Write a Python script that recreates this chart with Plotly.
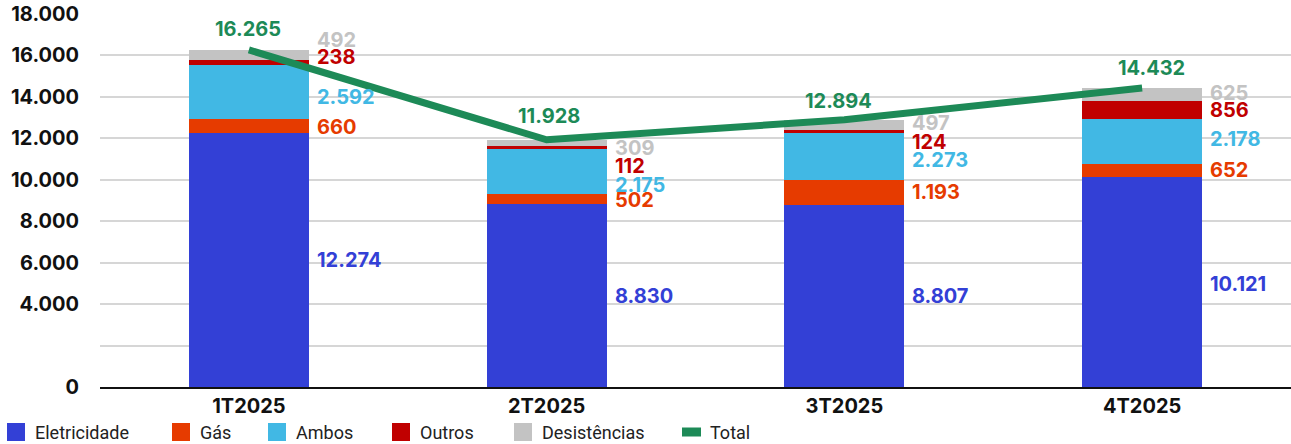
import plotly.graph_objects as go

# ---- data ----
categories = ["1T2025", "2T2025", "3T2025", "4T2025"]
eletricidade = [12274, 8830, 8807, 10121]
gas = [660, 502, 1193, 652]
ambos = [2592, 2175, 2273, 2178]
outros = [238, 112, 124, 856]
desistencias = [492, 309, 497, 625]
total = [16265, 11928, 12894, 14432]
series_names = ["Eletricidade", "Gás", "Ambos", "Outros", "Desistências"]
total_name = "Total"
y_tick_values = [0, 2000, 4000, 6000, 8000, 10000, 12000, 14000, 16000, 18000]
y_tick_labels = ["0", "", "4.000", "6.000", "8.000", "10.000", "12.000", "14.000", "16.000", "18.000"]

# ---- style ----
colors = ["#3340d6", "#e63b00", "#41b8e4", "#c00000", "#c3c3c3"]
total_color = "#1d8a57"
NUM_FONT = "Inter"
LEG_FONT = "Roboto"
W, H = 1291, 444
ML, MR, MT, MB = 100, 0, 14, 57
PW, PH = W - ML - MR, H - MT - MB

# pixel nudges of the segment labels (to avoid overlaps), per series per category
label_yshift = [
    [0, 0, 0, -2],
    [-1, -1, 0, 1],
    [-5, -14, -4, 2],
    [6, -19, -11, 0],
    [15, -5, 2, 1],
]
total_yshift = [21, 24, 19, 20]
total_xshift = [-1, 2, -6, 9]
# legend layout (pixel positions of the swatches)
legend_x = [7, 172, 268, 392, 514, 682]
legend_y = 432


def fmt(v):
    return f"{v:,}".replace(",", ".")


def px_x(p):
    return (p - ML) / PW


def px_y(p):
    return (H - MB - p) / PH


series = [eletricidade, gas, ambos, outros, desistencias]

fig = go.Figure()
for name, vals, col in zip(series_names, series, colors):
    fig.add_trace(go.Bar(
        x=categories, y=vals, name=name, showlegend=False,
        marker=dict(color=col, line=dict(width=0)),
    ))

fig.add_trace(go.Scatter(
    x=categories, y=total, name=total_name, mode="lines", showlegend=False,
    line=dict(color=total_color, width=7),
))

annotations = []
for i, cat in enumerate(categories):
    base = 0
    for s, (vals, col) in enumerate(zip(series, colors)):
        v = vals[i]
        annotations.append(dict(
            x=cat, y=base + v / 2, xref="x", yref="y", text=fmt(v),
            showarrow=False, xanchor="left", yanchor="middle",
            xshift=66, yshift=label_yshift[s][i],
            font=dict(family=NUM_FONT, size=20, color=col, weight="bold"),
        ))
        base += v
    annotations.append(dict(
        x=cat, y=total[i], xref="x", yref="y", text=fmt(total[i]),
        showarrow=False, xanchor="center", yanchor="middle",
        xshift=total_xshift[i], yshift=total_yshift[i],
        font=dict(family=NUM_FONT, size=20, color=total_color, weight="bold"),
    ))

# custom legend
shapes = []
legend_names = series_names + [total_name]
legend_colors = colors + [total_color]
for k, (nm, col, lx) in enumerate(zip(legend_names, legend_colors, legend_x)):
    if nm == total_name:
        x0, x1, y0, y1 = lx, lx + 19, legend_y - 4.5, legend_y + 4.5
    else:
        x0, x1, y0, y1 = lx, lx + 18, legend_y - 9, legend_y + 9
    shapes.append(dict(
        type="rect", xref="paper", yref="paper",
        x0=px_x(x0), x1=px_x(x1), y0=px_y(y1), y1=px_y(y0),
        fillcolor=col, line=dict(width=0), layer="above",
    ))
    annotations.append(dict(
        x=px_x(lx + 26), y=px_y(legend_y), xref="paper", yref="paper",
        text=nm, showarrow=False, xanchor="left", yanchor="middle",
        font=dict(family=LEG_FONT, size=18, color="#222222"),
    ))

fig.update_layout(
    width=W, height=H,
    barmode="stack", bargap=0.597,
    plot_bgcolor="white", paper_bgcolor="white",
    margin=dict(l=ML, r=MR, t=MT, b=MB, autoexpand=False),
    annotations=annotations, shapes=shapes,
    showlegend=False,
    xaxis=dict(
        showgrid=False, showline=True, linecolor="#111111", linewidth=2,
        tickfont=dict(family=NUM_FONT, size=20, color="#111111", weight="bold"),
        ticks="", fixedrange=True,
    ),
    yaxis=dict(
        range=[0, 18000], tickvals=y_tick_values, ticktext=y_tick_labels,
        showgrid=True, gridcolor="#d6d6d6", gridwidth=2, zeroline=False,
        tickfont=dict(family=NUM_FONT, size=20, color="#111111", weight="bold"),
        ticklabelstandoff=20, fixedrange=True,
    ),
)

fig.write_html(
    "out.html",
    config={"displayModeBar": False},
    post_script="document.body.style.margin='0';document.body.style.padding='0';"
                "document.body.style.overflow='hidden';",
)
